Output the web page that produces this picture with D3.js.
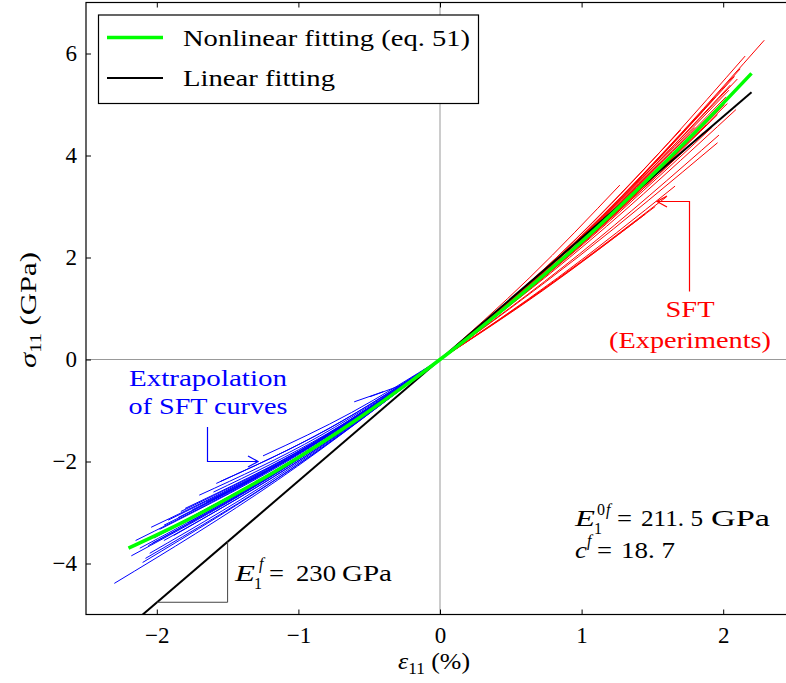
<!DOCTYPE html>
<html>
<head>
<meta charset="utf-8">
<script src="https://cdn.jsdelivr.net/npm/d3@7"></script>
<style>
  html, body { margin: 0; padding: 0; background: #fff; }
</style>
</head>
<body>
<svg id="chart" width="786" height="683"></svg>
<script>
// ---------------- DATA ----------------
const xTicks = [-2, -1, 0, 1, 2];
const yTicks = [-4, -2, 0, 2, 4, 6];

// Nonlinear fitting (eq. 51): strain (%) and stress (GPa)
const nlStrain = [-2.2, -1.8, -1.4, -1.0, -0.6, -0.2, 0, 0.2, 0.6, 1.0, 1.4, 1.8, 2.2];
const nlStress = [-3.70, -3.17, -2.57, -1.92, -1.20, -0.415, 0, 0.431, 1.34, 2.31, 3.35, 4.45, 5.61];

// Linear fitting
const linStrain = [-2.25, 2.2];
const linStress = [-5.36, 5.24];

// SFT experiments (red): end strain, end stress, stress at half strain
const redEnd  = [2.29, 2.155, 2.10, 2.05, 2.04, 2.03, 1.97, 1.96, 1.70, 1.60, 1.27, 2.09, 2.00, 1.95, 1.90, 1.88, 1.85,
                 1.80, 1.75, 2.08, 2.12, 1.92, 1.98, 1.82, 1.65, 1.55, 1.50, 1.93, 2.02, 1.86, 1.66, 1.52, 1.45,
                 1.96, 2.01, 1.89, 1.94];
const redSig  = [6.26, 5.95, 5.50, 5.38, 5.28, 5.02, 4.40, 4.25, 4.50, 3.19, 3.42, 4.90, 5.05, 4.90, 4.75, 4.60, 4.85,
                 4.55, 4.30, 5.55, 5.70, 4.55, 4.95, 4.35, 3.95, 3.85, 3.55, 5.10, 5.15, 4.45, 3.40, 3.00, 2.85,
                 4.80, 5.00, 4.70, 4.85];
const redMid  = [2.82, 2.68, 2.53, 2.45, 2.43, 2.33, 2.07, 2.02, 2.07, 1.52, 1.61, 2.30, 2.32, 2.25, 2.21, 2.14, 2.21,
                 2.09, 2.00, 2.50, 2.57, 2.14, 2.28, 2.04, 1.84, 1.77, 1.65, 2.32, 2.37, 2.09, 1.60, 1.43, 1.35,
                 2.22, 2.30, 2.17, 2.24];

// Extrapolation of SFT curves (blue)
const blueEnd = [-2.30, -2.10, -2.08, -2.06, -2.04, -1.98, -1.83, -1.80, -1.70, -1.58, -1.55, -1.25, -2.15, -2.12,
                 -2.00, -1.95, -1.90, -1.88, -1.85, -2.05, -1.95, -1.75, -1.92, -2.02, -1.65, -2.18, -1.78, -1.60,
                 -1.97, -2.03];
const blueSig = [-4.39, -3.98, -3.90, -3.65, -3.29, -3.33, -2.98, -2.92, -2.66, -2.43, -2.39, -1.89, -3.55, -3.70,
                 -3.45, -3.25, -3.30, -3.45, -3.10, -3.80, -3.55, -2.95, -3.15, -3.50, -2.80, -3.85, -3.20, -2.60,
                 -3.40, -3.60];
const blueMid = [-2.37, -2.15, -2.13, -2.01, -1.84, -1.85, -1.67, -1.64, -1.50, -1.36, -1.34, -1.04, -1.97, -2.04,
                 -1.90, -1.80, -1.82, -1.88, -1.72, -2.07, -1.95, -1.64, -1.76, -1.93, -1.55, -2.12, -1.76, -1.46,
                 -1.88, -1.98];
// short stray blue segments (start strain, start stress, end strain, end stress)
const strayX0 = [-0.606, -0.495];
const strayY0 = [-0.83, -0.73];
const strayX1 = [-0.40, -0.24];
const strayY1 = [-0.63, -0.47];

// ---------------- LAYOUT ----------------
const FONT = "'Liberation Serif'";
const svg = d3.select("#chart");
const L = 86, T = 2.5, R = 794, B = 614.5;
const x = d3.scaleLinear().domain([-2.5, 2.5]).range([L, R]);
const y = d3.scaleLinear().domain([-5, 7]).range([B, T]);

svg.append("defs").append("clipPath").attr("id", "clip")
  .append("rect").attr("x", L).attr("y", T).attr("width", R - L).attr("height", B - T);

const plot = svg.append("g").attr("clip-path", "url(#clip)");

// zero lines
plot.append("line").attr("x1", L).attr("x2", R).attr("y1", y(0)).attr("y2", y(0))
  .attr("stroke", "#999").attr("stroke-width", 1);
plot.append("line").attr("x1", x(0)).attr("x2", x(0)).attr("y1", T).attr("y2", B)
  .attr("stroke", "#999").attr("stroke-width", 1);

const curve = d3.line().x(d => x(d[0])).y(d => y(d[1])).curve(d3.curveNatural);
const straight = d3.line().x(d => x(d[0])).y(d => y(d[1]));

// red curves
redEnd.forEach((e, i) => {
  plot.append("path").attr("d", curve([[0, 0], [e / 2, redMid[i]], [e, redSig[i]]]))
    .attr("fill", "none").attr("stroke", "#ff0000").attr("stroke-width", 1);
});
// blue curves
blueEnd.forEach((e, i) => {
  plot.append("path").attr("d", curve([[0, 0], [e / 2, blueMid[i]], [e, blueSig[i]]]))
    .attr("fill", "none").attr("stroke", "#0000ff").attr("stroke-width", 1);
});
strayX0.forEach((v, i) => {
  plot.append("path").attr("d", straight([[v, strayY0[i]], [strayX1[i], strayY1[i]]]))
    .attr("fill", "none").attr("stroke", "#0000ff").attr("stroke-width", 1);
});

// linear fit
plot.append("path").attr("d", straight(linStrain.map((v, i) => [v, linStress[i]])))
  .attr("fill", "none").attr("stroke", "#000").attr("stroke-width", 2);
// nonlinear fit
plot.append("path").attr("d", d3.line().x(d => x(d[0])).y(d => y(d[1])).curve(d3.curveCatmullRom)(nlStrain.map((v, i) => [v, nlStress[i]])))
  .attr("fill", "none").attr("stroke", "#00ff00").attr("stroke-width", 3.5);

// slope triangle
const triA = [-2.0, -1.5];
svg.append("path")
  .attr("d", `M${x(triA[0])},${y(2.38 * triA[0])}L${x(triA[1])},${y(2.38 * triA[0])}L${x(triA[1])},${y(2.38 * triA[1])}`)
  .attr("fill", "none").attr("stroke", "#444").attr("stroke-width", 1);

// ---------------- AXES (frame with inward ticks) ----------------
svg.append("rect").attr("x", L).attr("y", T).attr("width", R - L).attr("height", B - T)
  .attr("fill", "none").attr("stroke", "#000").attr("stroke-width", 1.2);

const fmt = d => (d < 0 ? "\u2212" + Math.abs(d) : String(d));
const gx = svg.append("g").attr("transform", `translate(0,${B})`)
  .call(d3.axisBottom(x).tickValues(xTicks).tickSize(-5).tickPadding(12).tickFormat(fmt));
const gxt = svg.append("g").attr("transform", `translate(0,${T})`)
  .call(d3.axisTop(x).tickValues(xTicks).tickSize(-5).tickFormat(""));
const gy = svg.append("g").attr("transform", `translate(${L},0)`)
  .call(d3.axisLeft(y).tickValues(yTicks).tickSize(-5).tickPadding(9).tickFormat(fmt));
[gx, gxt, gy].forEach(g => {
  g.select(".domain").remove();
  g.attr("font-family", null);
  g.selectAll("line").attr("stroke", "#000").attr("stroke-width", 1);
  g.selectAll("text").attr("font-size", 23).attr("fill", "#000");
});

// axis titles
const ylab = svg.append("text").attr("transform", "translate(36,250) rotate(-90)")
  .attr("text-anchor", "end").attr("font-size", 24);
ylab.append("tspan").attr("font-style", "italic").text("σ");
ylab.append("tspan").attr("font-size", 16).attr("dy", 5).text("11");
ylab.append("tspan").attr("dy", -5).text(" (GPa)");
ylab.attr("text-anchor", null).attr("transform", "translate(36,368) rotate(-90)")
  .attr("textLength", 116).attr("lengthAdjust", "spacingAndGlyphs");

const xlab = svg.append("text").attr("x", 398).attr("y", 669).attr("font-size", 24)
  .attr("textLength", 72).attr("lengthAdjust", "spacingAndGlyphs");
xlab.append("tspan").attr("font-style", "italic").text("ε");
xlab.append("tspan").attr("font-size", 16).attr("dy", 5).text("11");
xlab.append("tspan").attr("dy", -5).text(" (%)");

// ---------------- LEGEND ----------------
const lg = svg.append("g");
lg.append("rect").attr("x", 98.5).attr("y", 15).attr("width", 380).attr("height", 88.5)
  .attr("fill", "#fff").attr("stroke", "#000").attr("stroke-width", 1.2);
lg.append("line").attr("x1", 107).attr("x2", 163).attr("y1", 37.5).attr("y2", 37.5)
  .attr("stroke", "#00ff00").attr("stroke-width", 3.5);
lg.append("line").attr("x1", 107).attr("x2", 163).attr("y1", 78).attr("y2", 78)
  .attr("stroke", "#000").attr("stroke-width", 2);
lg.append("text").attr("x", 183).attr("y", 46).attr("font-size", 23)
  .attr("textLength", 287).attr("lengthAdjust", "spacingAndGlyphs").text("Nonlinear fitting (eq. 51)");
lg.append("text").attr("x", 183).attr("y", 86).attr("font-size", 23)
  .attr("textLength", 152).attr("lengthAdjust", "spacingAndGlyphs").text("Linear fitting");

// ---------------- ANNOTATIONS ----------------
svg.append("text").attr("x", 690).attr("y", 317).attr("text-anchor", "middle").attr("font-size", 24)
  .attr("fill", "#ff0000").attr("textLength", 49).attr("lengthAdjust", "spacingAndGlyphs").text("SFT");
svg.append("text").attr("x", 690).attr("y", 348).attr("text-anchor", "middle").attr("font-size", 24)
  .attr("fill", "#ff0000").attr("textLength", 162).attr("lengthAdjust", "spacingAndGlyphs").text("(Experiments)");
svg.append("path").attr("d", "M689.5,291.5V201.5H657").attr("fill", "none").attr("stroke", "#ff0000").attr("stroke-width", 1.2);
svg.append("path").attr("d", "M667,196L657,201.5L667,207").attr("fill", "none").attr("stroke", "#ff0000").attr("stroke-width", 1.2);

svg.append("text").attr("x", 208).attr("y", 386).attr("text-anchor", "middle").attr("font-size", 24)
  .attr("fill", "#0000ff").attr("textLength", 158).attr("lengthAdjust", "spacingAndGlyphs").text("Extrapolation");
svg.append("text").attr("x", 208).attr("y", 414).attr("text-anchor", "middle").attr("font-size", 24)
  .attr("fill", "#0000ff").attr("textLength", 159).attr("lengthAdjust", "spacingAndGlyphs").text("of SFT curves");
svg.append("path").attr("d", "M207.5,427V461.5H258").attr("fill", "none").attr("stroke", "#0000ff").attr("stroke-width", 1.2);
svg.append("path").attr("d", "M248,456L258,461.5L248,467").attr("fill", "none").attr("stroke", "#0000ff").attr("stroke-width", 1.2);

function mtext(px, py, txt, size, italic, len) {
  const t = svg.append("text").attr("x", px).attr("y", py).attr("font-size", size).attr("fill", "#000").text(txt);
  if (italic) t.attr("font-style", "italic");
  if (len) t.attr("textLength", len).attr("lengthAdjust", "spacingAndGlyphs");
  return t;
}
// E_1^f = 230 GPa
mtext(235, 581, "E", 24, true, 20);
mtext(254, 589, "1", 16, false);
mtext(259, 569, "f", 16, true);
mtext(269, 581, "=", 24, false, 15);
mtext(296, 581, "230", 24, false, 40);
mtext(342, 581, "GPa", 24, false, 50);
// E_1^{0f} = 211.5 GPa
mtext(575, 526, "E", 24, true, 20);
mtext(594, 534, "1", 16, false);
mtext(597, 515, "0", 16, false);
mtext(606, 515, "f", 16, true);
mtext(617, 526, "=", 24, false, 15);
mtext(641, 526, "211. 5", 24, false, 62);
mtext(711, 526, "GPa", 24, false, 59);
// c^f = 18.7
mtext(575, 558, "c", 24, true, 12);
mtext(587, 546, "f", 16, true);
mtext(597, 558, "=", 24, false, 15);
mtext(621, 558, "18. 7", 24, false, 54);

svg.selectAll("text").attr("font-family", "Liberation Serif").style("font-family", FONT);
</script>
</body>
</html>
